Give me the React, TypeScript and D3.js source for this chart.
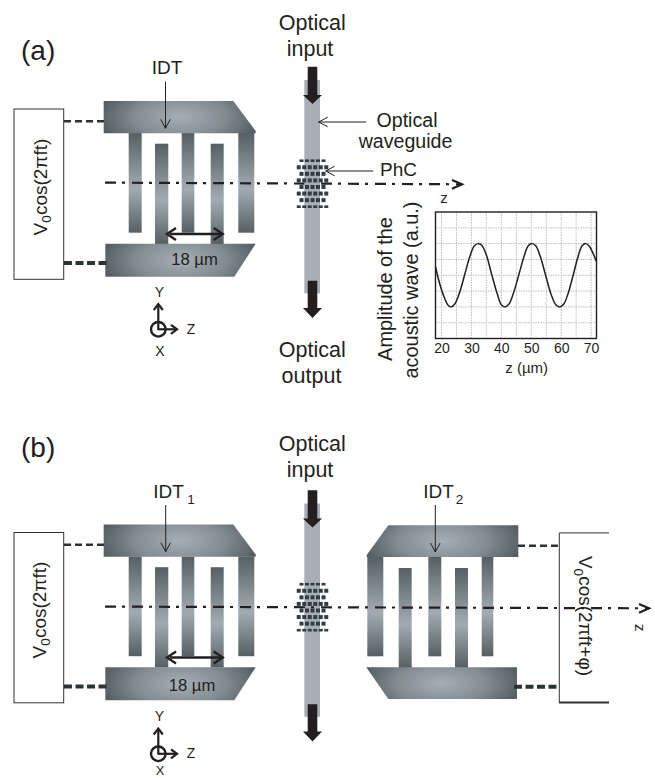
import React, { useRef, useEffect } from 'react';
import * as d3 from 'd3';

// amplitude curve
const waveZ = [18, 19.5, 21, 22.2, 23.2, 24.5, 26, 27.7, 29.5, 31, 32.3, 33.5, 35, 36.8, 38.6, 40, 41.2, 42.5, 44, 45.8, 47.6, 49, 50.3, 51.5, 53, 54.8, 56.6, 58.2, 59.5, 60.8, 62.3, 64, 65.6, 67, 68.2, 69.4, 70.8, 71.8];
const waveAmp = [0.27, -0.3, -0.72, -0.95, -1, -0.9, -0.56, 0, 0.6, 0.93, 1, 0.94, 0.64, 0.02, -0.58, -0.93, -1, -0.92, -0.58, 0, 0.6, 0.93, 1, 0.93, 0.6, 0, -0.6, -0.93, -1, -0.92, -0.58, 0, 0.58, 0.93, 1, 0.92, 0.66, 0.43];
const zTicks = [20, 30, 40, 50, 60, 70];
const zGrid = [20, 25, 30, 35, 40, 45, 50, 55, 60, 65, 70];
const ampGrid = [1.5, 1, 0.5, 0, -0.5, -1, -1.5];

// photonic crystal: dots per row, thin rows are the outer ones
const phcRows = [5, 6, 5, 6, 5, 6, 5, 6];

const INK = '#231f20';
const SANS = '"Liberation Sans", Arial, sans-serif';

const zScale = d3.scaleLinear().domain([18, 71.8]).range([435.5, 596.5]);
const ampScale = d3.scaleLinear().domain([2, -2]).range([212, 338.5]);
const wavePath = d3.line<number>()
  .x(d => zScale(waveZ[d]))
  .y(d => ampScale(waveAmp[d]))
  .curve(d3.curveCatmullRom)(d3.range(waveZ.length)) as string;

const poly = d3.line<number[]>().x(d => d[0]).y(d => d[1]);

type TP = { x: number; y: number; size?: number; anchor?: string; rot?: number; children: React.ReactNode };
const T = ({ x, y, size = 19, anchor = 'middle', rot = 0, children }: TP) => (
  <text x={x} y={y} fontSize={size} textAnchor={anchor} fill={INK} fontFamily={SANS}
    transform={rot ? `rotate(${rot} ${x} ${y})` : undefined}>{children}</text>
);

// open arrow head pointing along dir (r, l, u, d)
const chevron = (x: number, y: number, dir: string, len: number, half: number) => {
  const pts = dir === 'r' ? [[x - len, y - half], [x, y], [x - len, y + half]]
    : dir === 'l' ? [[x + len, y - half], [x, y], [x + len, y + half]]
      : dir === 'u' ? [[x - half, y + len], [x, y], [x + half, y + len]]
        : [[x - half, y - len], [x, y], [x + half, y - len]];
  return poly(pts) as string;
};

const Pointer = ({ x1, y1, x2, y2, dir, w = 1 }: any) => (
  <g fill="none" stroke={INK} strokeWidth={w}>
    <line x1={x1} y1={y1} x2={x2} y2={y2} />
    <path d={chevron(x2, y2, dir, 9, 4.8)} />
  </g>
);

const Defs = () => (
  <defs>
    <radialGradient id="bus" cx="0.5" cy="0.5" r="1"
      gradientTransform="translate(0.5 0.5) scale(0.54 1.15) translate(-0.5 -0.5)">
      <stop offset="0" stopColor="#a6afb6" />
      <stop offset="0.55" stopColor="#828c91" />
      <stop offset="1" stopColor="#535c5f" />
    </radialGradient>
    <linearGradient id="finger" x1="0" x2="0" y1="0" y2="1">
      <stop offset="0" stopColor="#566063" />
      <stop offset="0.56" stopColor="#a2abb1" />
      <stop offset="1" stopColor="#566063" />
    </linearGradient>
  </defs>
);

type Finger = [number, number];
const leftTopFingers: Finger[] = [[128.7, 141.7], [181.7, 194.3], [238.3, 254.3]];
const leftBottomFingers: Finger[] = [[155, 168.3], [210.7, 223.7]];
const rightTopFingers: Finger[] = [[367.3, 383.3], [428.3, 441.3], [481.7, 493.3]];
const rightBottomFingers: Finger[] = [[398.7, 411.7], [455, 468]];

const Fingers = ({ list, y0, y1 }: { list: Finger[]; y0: number; y1: number }) => (
  <>{list.map(f => <rect key={f[0]} x={f[0]} y={y0} width={f[1] - f[0]} height={y1 - y0} fill="url(#finger)" />)}</>
);

const LeftIdt = ({ dy }: { dy: number }) => (
  <g transform={`translate(0,${dy})`}>
    <Fingers list={leftTopFingers} y0={133} y1={232.7} />
    <Fingers list={leftBottomFingers} y0={143.7} y1={244} />
    <path fill="url(#bus)" d={poly([[103.7, 101], [233.3, 101], [255.7, 131], [255.7, 133.3], [103.7, 133.3]]) + 'Z'} />
    <path fill="url(#bus)" d={poly([[105.3, 243.7], [255.7, 243.7], [234.3, 276.7], [105.3, 276.7]]) + 'Z'} />
    <rect x={14} y={109} width={49.7} height={170.3} fill="#fff" stroke="#333" strokeWidth={1} />
    <line x1={64} x2={104} y1={121.3} y2={121.3} stroke="#2b3335" strokeWidth={2.6} strokeDasharray="7 4" />
    <line x1={64} x2={108} y1={263} y2={263} stroke="#2b3335" strokeWidth={4} strokeDasharray="8 3.5" />
    <line x1={170} x2={220} y1={234} y2={234} stroke={INK} strokeWidth={2.4} />
    <path d={chevron(167, 234, 'l', 9, 6)} fill="none" stroke={INK} strokeWidth={2.4} />
    <path d={chevron(222.7, 234, 'r', 9, 6)} fill="none" stroke={INK} strokeWidth={2.4} />
  </g>
);

const RightIdt = () => (
  <g>
    <Fingers list={rightTopFingers} y0={557} y1={656.3} />
    <Fingers list={rightBottomFingers} y0={568} y1={668} />
    <path fill="url(#bus)" d={poly([[388.3, 525.3], [518.3, 525.3], [518.3, 557], [366.7, 557], [366.7, 555]]) + 'Z'} />
    <path fill="url(#bus)" d={poly([[366.3, 667.3], [517, 667.3], [517, 699], [388.3, 699]]) + 'Z'} />
    <path d="M609 532.9H559.3V702.4H609" fill="#fff" stroke="#333" strokeWidth={1} />
    <line x1={559} x2={609} y1={702.6} y2={702.6} stroke="#333" strokeWidth={2} />
    <line x1={518} x2={559} y1={545.7} y2={545.7} stroke="#2b3335" strokeWidth={2.6} strokeDasharray="7 4" />
    <line x1={514} x2={559} y1={686.7} y2={686.7} stroke="#2b3335" strokeWidth={4} strokeDasharray="8 3.5" />
  </g>
);

const phcY = d3.scaleLinear().domain([0, 7]).range([160.7, 206.7]);

const Guide = ({ dy }: { dy: number }) => (
  <g transform={`translate(0,${dy})`}>
    <rect x={304.3} y={80} width={15.7} height={213.3} fill="#a7aeb6" />
    {phcRows.map((n, r) => {
      const thin = r === 0 || r === 7;
      const h = thin ? 2.6 : 4;
      const step = 5.5;
      const start = 312.5 - ((n - 1) * step) / 2;
      return d3.range(n).map(i => (
        <rect key={`${r}-${i}`} x={start + i * step - 2} y={phcY(r) - h / 2} width={4} height={h} fill="#333d41" />
      ));
    })}
    <path fill="#231f20" d={poly([[307.7, 66.7], [317.3, 66.7], [317.3, 95], [322, 95], [312.5, 104], [303, 95], [307.7, 95]]) + 'Z'} />
    <path fill="#231f20" d={poly([[307.7, 280.7], [317.3, 280.7], [317.3, 308], [322, 308], [312.5, 318], [303, 308], [307.7, 308]]) + 'Z'} />
  </g>
);

const AxisLine = ({ y1, y2, x2 }: { y1: number; y2: number; x2: number }) => (
  <g fill="none" stroke={INK} strokeWidth={2.2}>
    <line x1={105} y1={y1} x2={x2} y2={y2} strokeDasharray="11 6 3 7" />
    <path d={chevron(x2, y2, 'r', 10, 4.4)} />
  </g>
);

const Coord = ({ dy, xLabelY = 355.7, xLabelSize = 14 }: { dy: number; xLabelY?: number; xLabelSize?: number }) => (
  <g transform={`translate(0,${dy})`}>
    <T x={159.3} y={296.7} size={14}>Y</T>
    <circle cx={158.3} cy={329.3} r={7.3} fill="none" stroke={INK} strokeWidth={2.4} />
    <g fill="none" stroke={INK} strokeWidth={2.2}>
      <line x1={158.3} x2={158.3} y1={330} y2={305} />
      <path d={chevron(158.3, 304, 'u', 6, 4.5)} />
      <line x1={158} x2={176} y1={329.3} y2={329.3} />
      <path d={chevron(177, 329.3, 'r', 6, 4.5)} />
    </g>
    <T x={191} y={333.5} size={14}>Z</T>
    <T x={160} y={xLabelY} size={xLabelSize}>X</T>
  </g>
);

const Sub = ({ children }: { children: React.ReactNode }) => (
  <tspan fontSize="0.72em" dy="0.3em">{children}</tspan>
);

export default function App() {
  const xAxisRef = useRef<SVGGElement>(null);

  useEffect(() => {
    const g = d3.select(xAxisRef.current as SVGGElement);
    g.call(d3.axisBottom(zScale).tickValues(zTicks).tickSize(0).tickPadding(5) as any);
    g.select('.domain').remove();
    g.selectAll('text')
      .attr('font-size', 14)
      .attr('font-family', SANS)
      .attr('fill', INK);
  }, []);

  return (
    <svg width={655} height={778} style={{ position: 'absolute', left: 0, top: 0, display: 'block', background: '#fff' }}>
      <Defs />

      {/* panel a */}
      <T x={21} y={60} size={28} anchor="start">(a)</T>
      <T x={167} y={74}>IDT</T>
      <LeftIdt dy={0} />
      <Pointer x1={165.5} y1={81.7} x2={165.5} y2={128.3} dir="d" />
      <T x={47} y={187} size={19} rot={-90}>V<Sub>0</Sub><tspan dy="-0.22em">cos(2πft)</tspan></T>
      <T x={194.5} y={265} size={16.7}>18 µm</T>
      <AxisLine y1={182.6} y2={184.3} x2={462} />
      <Guide dy={0} />
      <T x={312.3} y={30} size={21.5}>Optical</T>
      <T x={310} y={56} size={21.5}>input</T>
      <T x={312.3} y={356.7} size={21.5}>Optical</T>
      <T x={311.5} y={383.3} size={21.5}>output</T>
      <Pointer x1={366} y1={122} x2={318.7} y2={122} dir="l" />
      <Pointer x1={373.3} y1={171} x2={325.7} y2={171} dir="l" />
      <T x={407} y={127} size={19.6}>Optical</T>
      <T x={405.5} y={147.7} size={19.6}>waveguide</T>
      <T x={380} y={175.7} anchor="start">PhC</T>
      <T x={444} y={202.7} size={15}>z</T>
      <Coord dy={0} />

      {/* inset plot */}
      <g fill="none" stroke="#b9bfc6" strokeWidth={1} strokeDasharray="1.5 1">
        {zGrid.map(z => <line key={z} x1={zScale(z)} x2={zScale(z)} y1={212} y2={338.5} />)}
        {ampGrid.map(a => <line key={a} x1={435.5} x2={596.5} y1={ampScale(a)} y2={ampScale(a)} />)}
      </g>
      <path d={wavePath} fill="none" stroke={INK} strokeWidth={1.5} />
      <rect x={435.5} y={212} width={161} height={126.5} fill="none" stroke={INK} strokeWidth={1.4} />
      <g ref={xAxisRef} transform="translate(0,338.5)" />
      <T x={526.7} y={372.7} size={15}>z (µm)</T>
      <T x={391.7} y={289} size={19.9} rot={-90}>Amplitude of the</T>
      <T x={418} y={290} size={19.9} rot={-90}>acoustic wave (a.u.)</T>

      {/* panel b */}
      <T x={21} y={457} size={28} anchor="start">(b)</T>
      <T x={153.3} y={498.3} anchor="start">IDT</T>
      <T x={191} y={504} size={13.5}>1</T>
      <T x={423.3} y={498.3} anchor="start">IDT</T>
      <T x={459.5} y={504} size={13.5}>2</T>
      <LeftIdt dy={423.5} />
      <RightIdt />
      <Pointer x1={165.7} y1={505} x2={165.7} y2={551.7} dir="d" />
      <Pointer x1={435.3} y1={505} x2={435.3} y2={552} dir="d" />
      <T x={46} y={610} size={19} rot={-90}>V<Sub>0</Sub><tspan dy="-0.22em">cos(2πft)</tspan></T>
      <T x={192} y={691} size={16.7}>18 µm</T>
      <T x={578.5} y={616} size={19} rot={90}>V<Sub>0</Sub><tspan dy="-0.22em">cos(2πft+φ)</tspan></T>
      <Guide dy={423.5} />
      <AxisLine y1={606.6} y2={608.3} x2={649} />
      <T x={312.3} y={450.7} size={21.5}>Optical</T>
      <T x={310} y={477.3} size={21.5}>input</T>
      <T x={635} y={627.7} size={15} rot={90}>z</T>
      <Coord dy={424.5} xLabelY={350.3} xLabelSize={13} />
    </svg>
  );
}
